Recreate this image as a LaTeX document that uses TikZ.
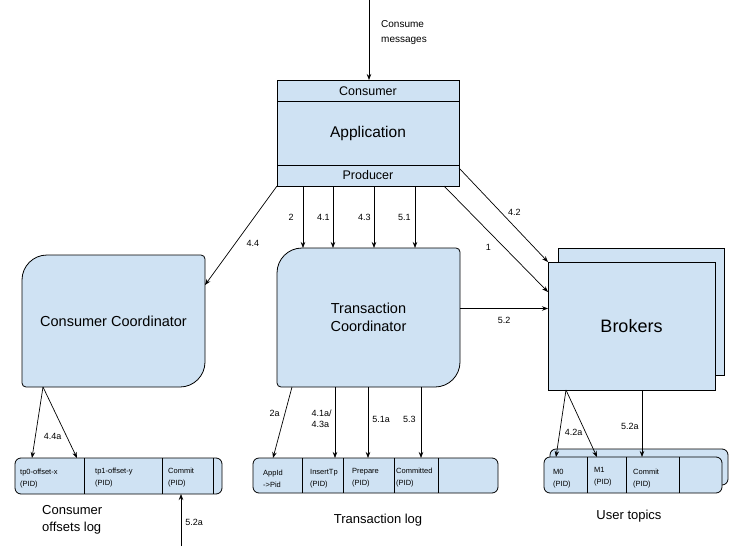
\documentclass[tikz,border=0pt]{standalone}
\usepackage{fontspec}
\setmainfont{Liberation Sans}
\usetikzlibrary{arrows.meta, positioning, backgrounds, calc}
\definecolor{boxBlue}{RGB}{207,226,243}

\begin{document}
\begin{tikzpicture}[
    x=1pt, y=-1pt,
    box/.style={rectangle, draw, fill=boxBlue, line width=0.8pt, inner sep=0pt, outer sep=0pt, align=center},
    coordbox/.style={rectangle, inner sep=0pt, outer sep=0pt, align=center, font=\fontsize{14.5}{18}\selectfont},
    logbox/.style={box, rounded corners=6pt},
    cell/.style={anchor=west, align=left, inner sep=0pt, font=\fontsize{7.5}{12}\selectfont},
    arrow/.style={-{Stealth[length=6pt, width=4.5pt]}, line width=0.7pt},
    lbl/.style={font=\fontsize{9}{11}\selectfont, inner sep=1pt, align=left},
    caption/.style={font=\fontsize{13}{17}\selectfont, align=left, inner sep=0pt}
]
\useasboundingbox (0,0) rectangle (744,546);

% Application
\node[box, minimum width=182pt, minimum height=106pt, font=\fontsize{15.5}{18}\selectfont] (app) at (368,133) {Application};
\draw[line width=0.8pt] ([yshift=-21pt]app.north west) -- ([yshift=-21pt]app.north east);
\draw[line width=0.8pt] ([yshift=21pt]app.south west) -- ([yshift=21pt]app.south east);
\node[font=\fontsize{12.5}{15}\selectfont] (cons) at ([yshift=-11pt]app.north) {Consumer};
\node[font=\fontsize{12.5}{15}\selectfont] (prod) at ([yshift=10.5pt]app.south) {Producer};
\coordinate (feed) at (369,0);
\node[lbl, anchor=west, font=\fontsize{10}{15}\selectfont] (feedlbl) at (380,33) {Consume\\messages};

% Coordinators
\node[coordbox, minimum width=183pt, minimum height=132pt] (cc) at (113.5,321) {Consumer Coordinator};
\node[coordbox, minimum width=183pt, minimum height=139pt] (tc) at (368.5,317.5) {Transaction\\Coordinator};
\begin{scope}[on background layer]
\draw[fill=boxBlue, line width=0.8pt] (cc.west) [rounded corners=25pt] -- (cc.north west) -- (cc.north)
    [rounded corners=4pt] -- (cc.north east) -- (cc.east) [rounded corners=25pt] -- (cc.south east) -- (cc.south)
    [rounded corners=4pt] -- (cc.south west) -- cycle;
\draw[fill=boxBlue, line width=0.8pt] (tc.west) [rounded corners=25pt] -- (tc.north west) -- (tc.north)
    [rounded corners=4pt] -- (tc.north east) -- (tc.east) [rounded corners=25pt] -- (tc.south east) -- (tc.south)
    [rounded corners=4pt] -- (tc.south west) -- cycle;
\end{scope}

% Brokers
\node[box, minimum width=166pt, minimum height=127pt] (brokersback) at (641,311.5) {};
\node[box, minimum width=167pt, minimum height=128pt, font=\fontsize{18}{21}\selectfont] (brokers) at (631.5,326) {Brokers};

% Consumer offsets log
\node[logbox, minimum width=207pt, minimum height=36pt] (olog) at (118.5,476) {};
\draw[line width=0.8pt] (84,0 |- olog.north) -- (84,0 |- olog.south);
\draw[line width=0.8pt] (162,0 |- olog.north) -- (162,0 |- olog.south);
\draw[line width=0.8pt] (213,0 |- olog.north) -- (213,0 |- olog.south);
\node[cell] (tp0) at (20,479) {tp0-offset-x\\(PID)};
\node[cell] (tp1) at (95,478) {tp1-offset-y\\(PID)};
\node[cell] (ocommit) at (168,478) {Commit\\(PID)};
\node[caption, anchor=west] (ologcap) at (42,520) {Consumer\\offsets log};

% Transaction log
\node[logbox, minimum width=245pt, minimum height=35pt] (tlog) at (375.5,475.5) {};
\draw[line width=0.8pt] (302,0 |- tlog.north) -- (302,0 |- tlog.south);
\draw[line width=0.8pt] (343,0 |- tlog.north) -- (343,0 |- tlog.south);
\draw[line width=0.8pt] (394,0 |- tlog.north) -- (394,0 |- tlog.south);
\draw[line width=0.8pt] (438,0 |- tlog.north) -- (438,0 |- tlog.south);
\node[cell] (appid) at (263,479) {AppId\\->Pid};
\node[cell] (insert) at (310,479) {InsertTp\\(PID)};
\node[cell] (prepare) at (352,478) {Prepare\\(PID)};
\node[cell] (committed) at (396,478) {Committed\\(PID)};
\node[caption] (tlogcap) at (378,520) {Transaction log};

% User topics
\node[logbox, minimum width=178pt, minimum height=36pt] (topicsback) at (639,467) {};
\node[logbox, minimum width=178pt, minimum height=36pt] (topics) at (633,475) {};
\draw[line width=0.8pt] (587,0 |- topics.north) -- (587,0 |- topics.south);
\draw[line width=0.8pt] (626,0 |- topics.north) -- (626,0 |- topics.south);
\draw[line width=0.8pt] (679,0 |- topics.north) -- (679,0 |- topics.south);
\node[cell] (m0) at (553,479) {M0\\(PID)};
\node[cell] (m1) at (594,477) {M1\\(PID)};
\node[cell] (tcommit) at (633,479) {Commit\\(PID)};
\node[caption] (topicscap) at (629,516) {User topics};

% Arrows
\draw[arrow] (feed) -- (feed |- app.north);
\draw[arrow] ([xshift=26pt]app.south west) -- ([xshift=26pt]app.south west |- tc.north) node[lbl, midway, left=8pt] {2};
\draw[arrow] ([xshift=56pt]app.south west) -- ([xshift=56pt]app.south west |- tc.north) node[lbl, midway, left=2pt] {4.1};
\draw[arrow] ([xshift=97pt]app.south west) -- ([xshift=97pt]app.south west |- tc.north) node[lbl, midway, left=2pt] {4.3};
\draw[arrow] ([xshift=138pt]app.south west) -- ([xshift=138pt]app.south west |- tc.north) node[lbl, midway, left=3pt] {5.1};
\draw[arrow] (app.south west) -- ([yshift=-30pt]cc.north east) node[lbl, pos=0.58, right=10pt] {4.4};
\draw[arrow] ([xshift=-15pt]app.south east) -- ([yshift=34pt]brokers.west) node[lbl, pos=0.58, left=12pt] {1};
\draw[arrow] ([yshift=18pt]app.south east) -- (brokers.north west) node[lbl, pos=0.47, right=6pt] {4.2};
\draw[arrow] ([yshift=9pt]tc.east) -- ([yshift=9pt]tc.east -| brokers.west) node[lbl, midway, below=7pt] {5.2};

\draw[arrow] ([xshift=21pt]cc.south west) -- ([xshift=17pt]olog.north west);
\draw[arrow] ([xshift=21pt]cc.south west) -- ([xshift=62pt]olog.north west) node[lbl, pos=0.7, left=4pt] {4.4a};
\coordinate (commitfeed) at (181,546);
\draw[arrow] (commitfeed) -- (commitfeed |- olog.south) node[lbl, pos=0.45, right=3pt] {5.2a};

\draw[arrow] ([xshift=15pt]tc.south west) -- ([xshift=20pt]tlog.north west) node[lbl, pos=0.37, left=4pt] {2a};
\draw[arrow] ([xshift=58pt]tc.south west) -- ([xshift=58pt]tc.south west |- tlog.north) node[lbl, pos=0.45, left=2pt] {4.1a/\\4.3a};
\draw[arrow] ([xshift=91pt]tc.south west) -- ([xshift=91pt]tc.south west |- tlog.north) node[lbl, pos=0.45, right=3pt] {5.1a};
\draw[arrow] ([xshift=144pt]tc.south west) -- ([xshift=144pt]tc.south west |- tlog.north) node[lbl, pos=0.45, left=4pt] {5.3};

\draw[arrow] ([xshift=18pt]brokers.south west) -- ([xshift=12pt]topics.north west);
\draw[arrow] ([xshift=18pt]brokers.south west) -- ([xshift=53pt]topics.north west) node[lbl, pos=0.64, left=2pt] {4.2a};
\draw[arrow] ([xshift=94pt]brokers.south west) -- ([xshift=94pt]brokers.south west |- topics.north) node[lbl, pos=0.54, left=2pt] {5.2a};

\end{tikzpicture}
\end{document}
